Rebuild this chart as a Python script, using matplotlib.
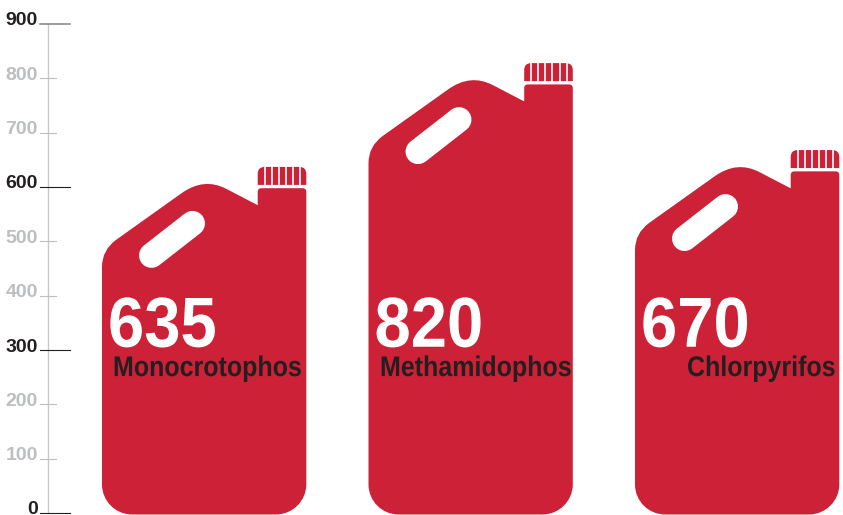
import matplotlib
matplotlib.use("Agg")
import matplotlib.pyplot as plt
from matplotlib.path import Path
from matplotlib.patches import PathPatch
from matplotlib.patheffects import AbstractPathEffect
from matplotlib.transforms import Affine2D

# values
names = ["Monocrotophos", "Methamidophos", "Chlorpyrifos"]
labels = ["635", "820", "670"]
heights = [637, 828, 668]   # drawn height of the jugs
ticks = [0, 100, 200, 300, 400, 500, 600, 700, 800, 900]
major = [0, 300, 600, 900]

lefts = [102, 368.5, 635]
name_x = [113, 380, 687]

RED = "#cc2136"
DARK = "#231f20"
LIGHT = "#bcbec0"
PX = 489 / 900.0   # pixels for one unit on the y axis


# no condensed font here, so squeeze the glyphs sideways
class Squeeze(AbstractPathEffect):
    def __init__(self, x, sx):
        super().__init__()
        self.x = x
        self.sx = sx

    def draw_path(self, renderer, gc, tpath, affine, rgbFace=None):
        t = affine + Affine2D().translate(-self.x, 0).scale(self.sx, 1).translate(self.x, 0)
        renderer.draw_path(gc, tpath, t, rgbFace)


fig = plt.figure(figsize=(8.43, 5.15), dpi=100)
ax = fig.add_axes([0, 0, 1, 1])
ax.set_xlim(0, 843)
ax.set_ylim(-2 / PX, 513 / PX)
ax.axis("off")


def jug_path(x0, h):
    def p(dx, dy):
        return (x0 + dx, h - dy / PX)
    b = h * PX + 1.5
    verts = [p(155.7, 38.3), p(155.7, 25), p(155.7, 21.3), p(159.5, 21.3),
             p(200.5, 21.3), p(204.3, 21.3), p(204.3, 25),
             p(204.3, b - 30), p(204.3, b - 13.5), p(190.5, b), p(174, b),
             p(30, b), p(13.5, b), p(0, b - 13.5), p(0, b - 30),
             p(0, 100), p(0, 83.2), p(14, 73),
             p(80, 26), p(102, 10.5), p(124, 21.8),
             p(155.7, 38.3)]
    codes = [Path.MOVETO, Path.LINETO, Path.CURVE3, Path.CURVE3,
             Path.LINETO, Path.CURVE3, Path.CURVE3,
             Path.LINETO, Path.CURVE4, Path.CURVE4, Path.CURVE4,
             Path.LINETO, Path.CURVE4, Path.CURVE4, Path.CURVE4,
             Path.LINETO, Path.CURVE3, Path.CURVE3,
             Path.LINETO, Path.CURVE3, Path.CURVE3,
             Path.CLOSEPOLY]
    return Path(verts, codes)


def cap_path(x0, h):
    def p(dx, dy):
        return (x0 + dx, h - dy / PX)
    verts = [p(155.7, 18), p(155.7, 7), p(155.7, 0), p(162.7, 0),
             p(197.3, 0), p(204.3, 0), p(204.3, 7), p(204.3, 18), p(155.7, 18)]
    codes = [Path.MOVETO, Path.LINETO, Path.CURVE3, Path.CURVE3,
             Path.LINETO, Path.CURVE3, Path.CURVE3, Path.LINETO, Path.CLOSEPOLY]
    return Path(verts, codes)


# axis
ax.plot([48, 48], [0, 900], color="#c8c8c8", lw=1.0, zorder=1)
for t in ticks:
    if t == 900:
        ax.plot([40, 70], [t, t], color="#808080", lw=1.1, zorder=2)
    elif t in major:
        ax.plot([40, 70], [t, t], color=DARK, lw=0.8, zorder=2)
    else:
        ax.plot([40, 56], [t, t], color=LIGHT, lw=0.8, zorder=2)
    ax.text(38, t + 3 / PX, str(t), ha="right", va="center", fontsize=14,
            family="Liberation Sans", weight="bold",
            color=DARK if t in major else LIGHT)

# jugs
for i in range(3):
    x0 = lefts[i]
    h = heights[i]
    ax.add_patch(PathPatch(jug_path(x0, h), fc=RED, ec="none", zorder=3))
    ax.add_patch(PathPatch(cap_path(x0, h), fc=RED, ec="none", zorder=3))
    for dx in [162.5, 169.7, 176.7, 183.7, 191, 198.3]:
        ax.plot([x0 + dx, x0 + dx], [h + 1 / PX, h - 19 / PX],
                color="white", lw=1.2, zorder=4, solid_capstyle="butt")
    ax.plot([x0 + 49.5, x0 + 90.5], [h - 88.5 / PX, h - 56.5 / PX], color="white",
            lw=18, solid_capstyle="round", zorder=4)
    ax.text(x0 + 6, 306, labels[i], color="white", fontsize=51,
            family="Liberation Sans", weight="bold", ha="left",
            va="baseline", zorder=5, path_effects=[Squeeze(x0 + 6, 0.92)])
    ax.text(name_x[i], 252, names[i], color=DARK, fontsize=20.5,
            family="Liberation Sans", weight="bold", ha="left",
            va="baseline", zorder=5, path_effects=[Squeeze(name_x[i], 0.878)])

fig.savefig("out.png", dpi=100)
